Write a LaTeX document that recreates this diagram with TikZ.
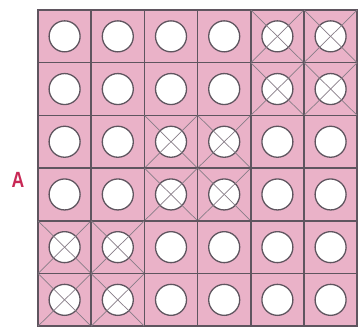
\documentclass[tikz,border=0pt]{standalone}
\usepackage{fontspec}
\setmainfont{Liberation Sans}
\definecolor{cellpink}{RGB}{234,178,200}
\definecolor{gridline}{RGB}{95,85,95}
\definecolor{crossline}{RGB}{135,125,135}
\definecolor{labelred}{RGB}{200,40,85}
\tikzset{
  cellbox/.style={fill=cellpink,draw=gridline,line width=1.5pt},
  hole/.style={circle,fill=white,draw=gridline,line width=1.3pt,minimum size=31pt,inner sep=0pt},
  crossln/.style={draw=crossline,line width=0.7pt},
  lbl/.style={text=labelred,font=\fontsize{22}{22}\selectfont\bfseries,xscale=0.8}
}
\begin{document}
\begin{tikzpicture}[x=1pt,y=-1pt]
\useasboundingbox (0,0) rectangle (358,330);
\fill[white] (0,0) rectangle (358,330);
\def\cw{53.2}
\def\ch{52.7}
\def\xo{38}
\def\yo{10}
\foreach \r/\row in {1/{0,0,0,0,1,1},2/{0,0,0,0,1,1},3/{0,0,1,1,0,0},4/{0,0,1,1,0,0},5/{1,1,0,0,0,0},6/{1,1,0,0,0,0}} {
  \foreach \v [count=\c] in \row {
    \pgfmathsetmacro{\xa}{\xo+(\c-1)*\cw}
    \pgfmathsetmacro{\ya}{\yo+(\r-1)*\ch}
    \pgfmathsetmacro{\xb}{\xa+\cw}
    \pgfmathsetmacro{\yb}{\ya+\ch}
    \draw[cellbox] (\xa,\ya) rectangle (\xb,\yb);
    \node[hole] (h\r\c) at ({(\xa+\xb)/2},{(\ya+\yb)/2}) {};
    \ifnum\v=1
      \draw[crossln] (\xa,\ya) -- (\xb,\yb);
      \draw[crossln] (\xb,\ya) -- (\xa,\yb);
    \fi
  }
}
\node[lbl] (A) at (18,180) {A};
\end{tikzpicture}
\end{document}
